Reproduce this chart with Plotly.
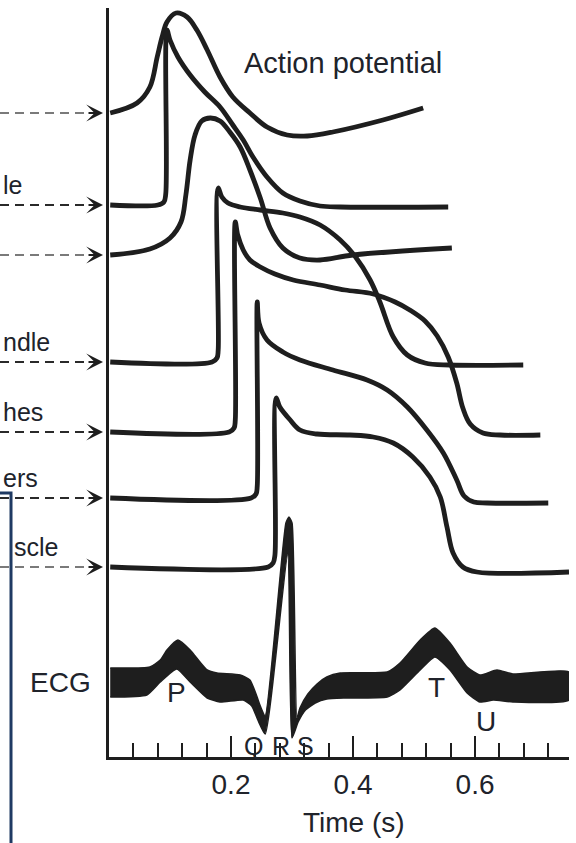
import plotly.graph_objects as go

# ---------------- data ----------------
# time in seconds, amplitude in arbitrary (figure) units
sa_t = [0.002, 0.046, 0.067, 0.079, 0.087, 0.095, 0.110, 0.128, 0.144, 0.161, 0.182, 0.203, 0.231, 0.259, 0.292, 0.325, 0.367, 0.449, 0.515]
sa_v = [644, 654, 670, 700, 720, 735, 744, 740, 727, 707, 680, 660, 644, 630, 622, 621, 625, 637, 649]

atrial_t = [0.002, 0.080, 0.090, 0.093, 0.095, 0.100, 0.113, 0.133, 0.157, 0.182, 0.203, 0.220, 0.236, 0.259, 0.285, 0.313, 0.346, 0.379, 0.556]
atrial_v = [552, 552, 555, 563, 727, 717, 700, 682, 665, 650, 632, 617, 600, 580, 564, 556, 551, 550, 550]

av_t = [0.002, 0.067, 0.100, 0.118, 0.126, 0.133, 0.141, 0.152, 0.166, 0.182, 0.198, 0.215, 0.231, 0.248, 0.264, 0.285, 0.313, 0.346, 0.400, 0.562]
av_v = [502, 508, 519, 535, 562, 597, 622, 636, 639, 636, 625, 610, 587, 559, 529, 509, 499, 497, 502, 509]

bundle_t = [0.002, 0.169, 0.177, 0.179, 0.179, 0.185, 0.195, 0.215, 0.248, 0.285, 0.313, 0.346, 0.379, 0.403, 0.428, 0.444, 0.466, 0.489, 0.518, 0.559, 0.679]
bundle_v = [395, 395, 399, 407, 569, 560, 554, 550, 547, 544, 540, 532, 517, 501, 477, 455, 420, 402, 394, 392, 392]

branch_t = [0.002, 0.197, 0.205, 0.207, 0.207, 0.211, 0.220, 0.231, 0.248, 0.272, 0.302, 0.346, 0.387, 0.433, 0.469, 0.493, 0.518, 0.538, 0.556, 0.570, 0.580, 0.592, 0.613, 0.641, 0.707]
branch_v = [325, 325, 329, 337, 535, 522, 507, 497, 490, 483, 477, 472, 467, 463, 455, 447, 436, 421, 400, 374, 349, 333, 324, 322, 322]

purkinje_t = [0.002, 0.233, 0.241, 0.243, 0.243, 0.246, 0.259, 0.285, 0.313, 0.367, 0.423, 0.456, 0.489, 0.521, 0.548, 0.570, 0.582, 0.598, 0.620, 0.720]
purkinje_v = [259, 259, 263, 271, 455, 434, 417, 405, 397, 387, 377, 367, 350, 327, 304, 277, 261, 255, 254, 254]

ventr_t = [0.002, 0.261, 0.269, 0.272, 0.274, 0.280, 0.297, 0.313, 0.341, 0.395, 0.433, 0.466, 0.498, 0.526, 0.543, 0.554, 0.564, 0.580, 0.603, 0.754]
ventr_v = [190, 190, 194, 202, 359, 350, 337, 327, 323, 322, 320, 314, 300, 280, 260, 230, 204, 190, 185, 185]

# ECG drawn as a thick band: upper edge and lower edge (left to right)
ecg_up_t = [0.002, 0.067, 0.084, 0.095, 0.113, 0.133, 0.149, 0.161, 0.177, 0.215, 0.231, 0.241, 0.248, 0.256,
            0.290, 0.295, 0.300, 0.308, 0.313, 0.326, 0.341, 0.357, 0.379, 0.456, 0.477, 0.510, 0.534, 0.559,
            0.587, 0.608, 0.636, 0.662, 0.754]
ecg_up_v = [89, 90, 97, 107, 117, 107, 95, 87, 84, 82, 77, 63, 51, 41,
            234, 240, 234, 39, 49, 63, 73, 80, 84, 85, 94, 117, 129, 114,
            90, 82, 87, 83, 85]
ecg_lo_t = [0.002, 0.062, 0.084, 0.111, 0.133, 0.161, 0.182, 0.220, 0.234, 0.244, 0.256,
            0.293, 0.300, 0.310, 0.322, 0.338, 0.357, 0.387, 0.456, 0.477, 0.510, 0.534, 0.559,
            0.587, 0.608, 0.630, 0.662, 0.754]
ecg_lo_v = [60, 62, 75, 88, 75, 59, 55, 57, 51, 37, 23,
            203, 19, 35, 47, 54, 58, 59, 60, 67, 87, 100, 87,
            64, 55, 57, 55, 57]

cell_names = ["SA node", "Atrial muscle", "AV node", "Common bundle",
              "Bundle branches", "Purkinje fibers", "Ventricular muscle"]
# visible (cropped) parts of the cell labels
cell_label_visible = ["", "le", "", "ndle", "hes", "ers", "scle"]
ecg_waves = ["P", "Q", "R", "S", "T", "U"]
x_tick_vals = [0.2, 0.4, 0.6]
x_tick_text = ["0.2", "0.4", "0.6"]

# ---------------- figure ----------------
W, H = 576, 843
ML, MR, MT, MB = 109, 7, 8, 86
PW = W - ML - MR
PH = H - MT - MB
FONT = "Liberation Sans, Arial, Helvetica, sans-serif"
INK = "#1e1e1e"
TXT = "#20232b"


def xp(px):
    """pixel column -> paper x"""
    return (px - ML) / PW


def yp(py):
    """pixel row -> paper y"""
    return (H - MB - py) / PH


fig = go.Figure()
series = [(sa_t, sa_v), (atrial_t, atrial_v), (av_t, av_v), (bundle_t, bundle_v),
          (branch_t, branch_v), (purkinje_t, purkinje_v), (ventr_t, ventr_v)]
for name, (t, v) in zip(cell_names, series):
    fig.add_trace(go.Scatter(x=t, y=v, mode="lines", name=name,
                             line=dict(color=INK, width=4.8, shape="spline", smoothing=1.0),
                             hoverinfo="name", showlegend=False))

fig.add_trace(go.Scatter(x=ecg_up_t + ecg_lo_t[::-1], y=ecg_up_v + ecg_lo_v[::-1],
                         mode="lines", fill="toself", fillcolor=INK, name="ECG",
                         line=dict(color=INK, width=1.5, shape="spline", smoothing=0.5),
                         showlegend=False))

annotations = []
shapes = []
dash_colors = ["#7a7a7a", "#2a2a2a", "#7a7a7a", "#2a2a2a", "#2a2a2a", "#2a2a2a", "#7a7a7a"]
label_left_px = [None, 1, None, 1, 1, 1, 12]
for (t, v), col, lab, lpx in zip(series, dash_colors, cell_label_visible, label_left_px):
    base = v[0]
    shapes.append(dict(type="line", xref="paper", yref="y", x0=xp(0), x1=xp(90), y0=base, y1=base,
                       line=dict(color=col, width=2, dash="9px,6px")))
    annotations.append(dict(xref="paper", yref="y", x=xp(103), y=base, text="", showarrow=True,
                            ax=-16, ay=0, arrowhead=3, arrowsize=1.4, arrowwidth=2, arrowcolor=INK))
    if lab:
        annotations.append(dict(xref="paper", yref="y", x=xp(lpx), y=base + 20, text=lab,
                                showarrow=False, xanchor="left", yanchor="middle",
                                font=dict(family=FONT, size=25, color=TXT)))

# ECG label and wave letters
annotations.append(dict(xref="paper", yref="y", x=xp(60), y=757 - 682, text="ECG", showarrow=False,
                        xanchor="center", yanchor="middle", font=dict(family=FONT, size=28, color=TXT)))
wave_pos = {"P": (176, 692, 28), "Q": (253, 746, 25), "R": (281, 746, 25), "S": (305, 746, 25),
            "T": (436, 687, 28), "U": (486, 721, 28)}
for w in ecg_waves:
    px, py, fs = wave_pos[w]
    annotations.append(dict(xref="paper", yref="y", x=xp(px), y=757 - py, text=w, showarrow=False,
                            xanchor="center", yanchor="middle", font=dict(family=FONT, size=fs, color=TXT)))

annotations.append(dict(xref="paper", yref="y", x=xp(343), y=757 - 63, text="Action potential",
                        showarrow=False, xanchor="center", yanchor="middle",
                        font=dict(family=FONT, size=29, color=TXT)))
annotations.append(dict(xref="paper", yref="paper", x=xp(354), y=yp(822), text="Time (s)",
                        showarrow=False, xanchor="center", yanchor="middle",
                        font=dict(family=FONT, size=28, color=TXT)))

# framing box from the slide (partly outside the crop)
shapes.append(dict(type="rect", xref="paper", yref="paper", x0=xp(-150), x1=xp(11),
                   y0=yp(900), y1=yp(493), line=dict(color="#1f3a63", width=3)))

fig.update_layout(
    width=W, height=H, margin=dict(l=ML, r=MR, t=MT, b=MB),
    paper_bgcolor="white", plot_bgcolor="white",
    annotations=annotations, shapes=shapes, showlegend=False,
    xaxis=dict(range=[0, 0.754], showgrid=False, zeroline=False, showline=True,
               linecolor=INK, linewidth=3, ticks="inside", ticklen=21, tickwidth=2,
               tickcolor=INK, tickvals=x_tick_vals, ticktext=x_tick_text,
               tickfont=dict(family=FONT, size=28, color=TXT), ticklabelstandoff=0,
               minor=dict(ticks="inside", ticklen=14, tickwidth=1.6, tickcolor=INK,
                          tick0=0, dtick=0.04)),
    yaxis=dict(range=[0, 749], showgrid=False, zeroline=False, showline=True,
               linecolor=INK, linewidth=2.5, showticklabels=False, ticks=""),
)

fig.write_html("out.html", config={"displayModeBar": False},
               post_script="document.body.style.margin='0';document.body.style.padding='0';"
                           "document.documentElement.style.overflow='hidden';")
